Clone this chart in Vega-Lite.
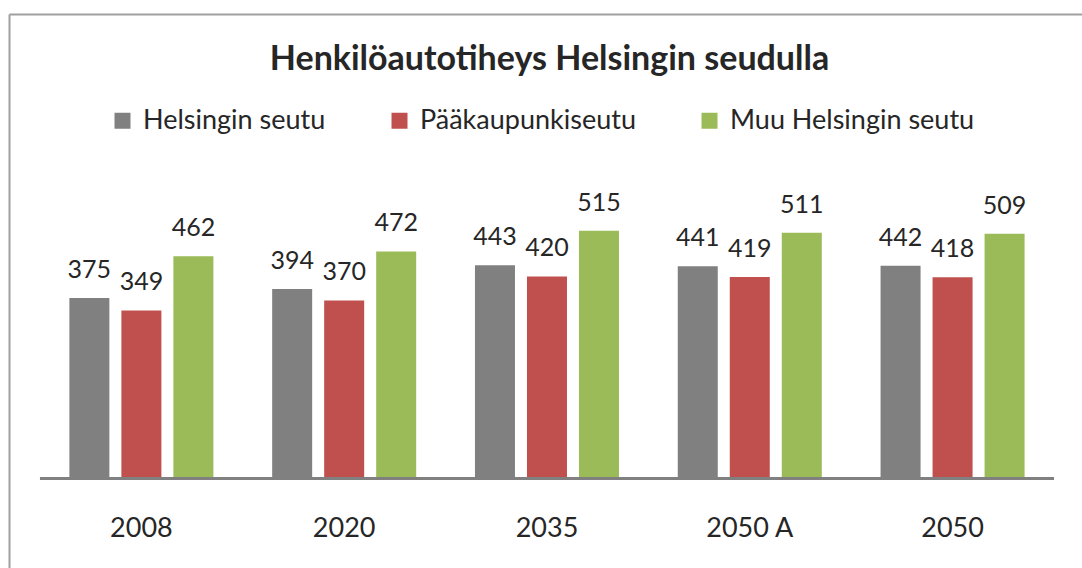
{
  "$schema": "https://vega.github.io/schema/vega-lite/v6.json",
  "width": 1073,
  "height": 554,
  "autosize": {"type": "none"},
  "padding": {"left": 9, "top": 14, "right": 0, "bottom": 0},
  "background": "white",
  "config": {"view": {"stroke": null}, "font": "Lato"},
  "title": {
    "text": "Henkilöautotiheys Helsingin seudulla",
    "font": "Lato",
    "fontSize": 34,
    "fontWeight": "bold",
    "color": "#262626",
    "anchor": "middle",
    "offset": 0,
    "baseline": "alphabetic",
    "dy": 90,
    "dx": 4
  },
  "data": {
    "values": [
      {"year": "2008", "series": "Helsingin seutu", "value": 375},
      {"year": "2008", "series": "Pääkaupunkiseutu", "value": 349},
      {"year": "2008", "series": "Muu Helsingin seutu", "value": 462},
      {"year": "2020", "series": "Helsingin seutu", "value": 394},
      {"year": "2020", "series": "Pääkaupunkiseutu", "value": 370},
      {"year": "2020", "series": "Muu Helsingin seutu", "value": 472},
      {"year": "2035", "series": "Helsingin seutu", "value": 443},
      {"year": "2035", "series": "Pääkaupunkiseutu", "value": 420},
      {"year": "2035", "series": "Muu Helsingin seutu", "value": 515},
      {"year": "2050 A", "series": "Helsingin seutu", "value": 441},
      {"year": "2050 A", "series": "Pääkaupunkiseutu", "value": 419},
      {"year": "2050 A", "series": "Muu Helsingin seutu", "value": 511},
      {"year": "2050", "series": "Helsingin seutu", "value": 442},
      {"year": "2050", "series": "Pääkaupunkiseutu", "value": 418},
      {"year": "2050", "series": "Muu Helsingin seutu", "value": 509}
    ]
  },
  "layer": [
    {
      "mark": {"type": "bar"},
      "encoding": {
        "x": {
          "field": "year", "type": "nominal",
          "sort": ["2008", "2020", "2035", "2050 A", "2050"],
          "scale": {"paddingInner": 0, "paddingOuter": 0.1455, "align": 0.525},
          "axis": {"orient": "top", "title": null, "labels": false, "ticks": false, "grid": false, "domain": true, "domainColor": "#a0a0a0", "domainWidth": 2}
        },
        "xOffset": {
          "field": "series", "type": "nominal",
          "sort": ["Helsingin seutu", "Pääkaupunkiseutu", "Muu Helsingin seutu"],
          "scale": {"paddingInner": 0.2308, "paddingOuter": 0.565}
        },
        "y": {
          "field": "value", "type": "quantitative",
          "scale": {"domain": [-187.5, 966.67], "nice": false, "zero": false},
          "axis": {"title": null, "labels": false, "ticks": false, "grid": false, "domain": true, "domainColor": "#a0a0a0", "domainWidth": 2}
        },
        "y2": {"datum": 0},
        "color": {
          "field": "series", "type": "nominal",
          "sort": ["Helsingin seutu", "Pääkaupunkiseutu", "Muu Helsingin seutu"],
          "scale": {"domain": ["Helsingin seutu", "Pääkaupunkiseutu", "Muu Helsingin seutu"], "range": ["#808080", "#c0504d", "#9bbb59"]},
          "legend": {
            "orient": "none", "legendX": 100, "legendY": 93,
            "direction": "horizontal", "title": null,
            "symbolType": "square", "symbolSize": 256, "symbolStrokeWidth": 0,
            "labelFont": "Lato", "labelFontSize": 27, "labelColor": "#262626", "labelLimit": 500,
            "labelOffset": 7, "columnPadding": 60, "padding": 0
          }
        }
      }
    },
    {
      "mark": {"type": "text", "dy": -20, "baseline": "alphabetic", "fontSize": 25, "color": "#262626", "font": "Lato"},
      "encoding": {
        "x": {"field": "year", "type": "nominal", "sort": ["2008", "2020", "2035", "2050 A", "2050"], "axis": null},
        "xOffset": {"field": "series", "type": "nominal", "sort": ["Helsingin seutu", "Pääkaupunkiseutu", "Muu Helsingin seutu"]},
        "y": {"field": "value", "type": "quantitative"},
        "text": {"field": "value", "type": "quantitative"}
      }
    },
    {
      "mark": {"type": "rect", "color": "#808080"},
      "encoding": {
        "x": {
          "field": "year", "type": "nominal",
          "sort": ["2008", "2020", "2035", "2050 A", "2050"],
          "axis": {"orient": "bottom", "title": null, "domain": false, "ticks": false, "grid": false, "labelAngle": 0, "labelFont": "Lato", "labelFontSize": 27, "labelColor": "#262626", "labelPadding": 37, "offset": -90}
        },
        "y": {"datum": 2},
        "y2": {"datum": -4}
      }
    }
  ],
  "resolve": {"axis": {"x": "independent"}}
}
